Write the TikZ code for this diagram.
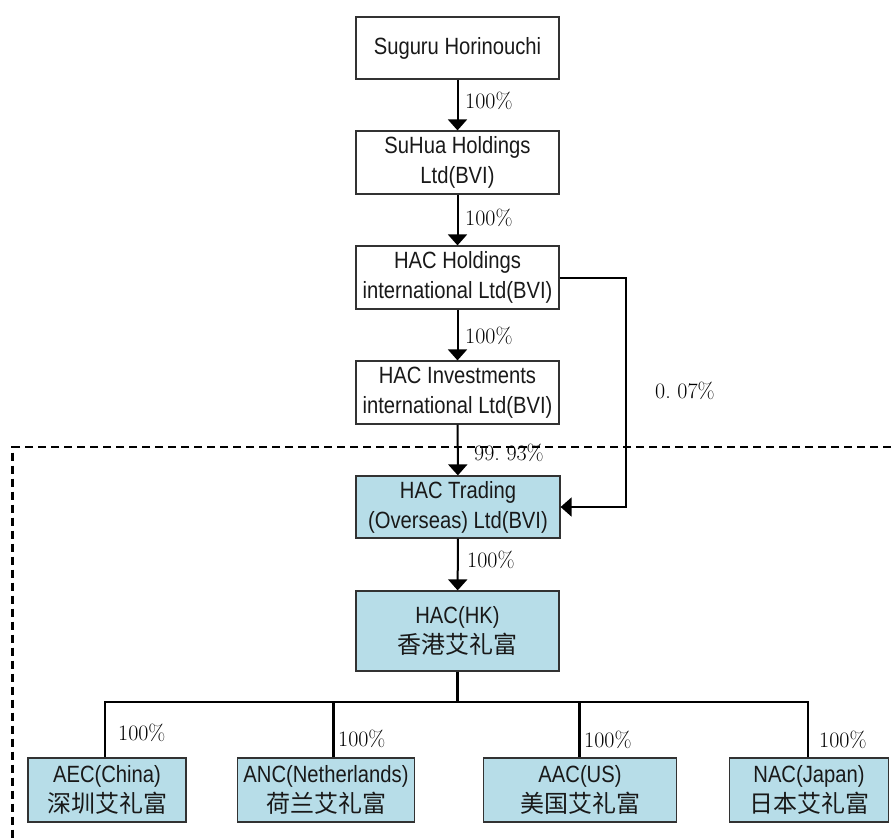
\documentclass[tikz,border=0pt]{standalone}
\usepackage{fontspec}
\newfontfamily\boxfont{Liberation Sans}[FakeStretch=0.86]
\newfontfamily\cjk{Noto Sans CJK SC}
\usetikzlibrary{arrows.meta}
\definecolor{boxblue}{RGB}{183,221,232}
\definecolor{edge}{RGB}{50,50,50}
\tikzset{
  entity/.style={draw=edge, line width=1.2pt, inner sep=0pt, minimum width=203pt, minimum height=63pt,
    align=center, font=\boxfont\fontsize{23.5}{30}\selectfont, text=black!90},
  blue/.style={entity, fill=boxblue},
  owns/.style={line width=2pt, -{Triangle[width=19pt,length=11pt]}},
  link/.style={line width=2.2pt},
  buslink/.style={line width=2.6pt},
  pct/.style={font=\fontsize{22}{26}\selectfont, inner sep=0pt, anchor=west, text=black},
  zone/.style={line width=2.2pt, dash pattern=on 8.5pt off 4.5pt}
}
\begin{document}
\begin{tikzpicture}[x=1pt,y=-1pt]
\useasboundingbox (0,0) rectangle (891,839);
% dashed zone
\draw[zone] (891,447) -- (12.5,447) -- (12.5,839);
% boxes
\node[entity, minimum height=62pt] (su) at (457.5,48) {Suguru Horinouchi};
\node[entity] (suhua) at (457.5,162.5) {SuHua Holdings\\Ltd(BVI)};
\node[entity] (hold) at (457.5,277.5) {HAC Holdings\\international Ltd(BVI)};
\node[entity] (inv) at (457.5,392.5) {HAC Investments\\international Ltd(BVI)};
\node[blue, minimum height=62pt, minimum width=204pt] (trade) at (458,507) {HAC Trading\\(Overseas) Ltd(BVI)};
\node[blue, minimum height=80pt] (hk) at (457.5,631) {HAC(HK)\\{\cjk\fontsize{24}{30}\selectfont 香港艾礼富}};
\node[blue, minimum width=158pt, minimum height=64pt] (aec) at (107,790) {AEC(China)\\{\cjk\fontsize{24}{30}\selectfont 深圳艾礼富}};
\node[blue, minimum width=177pt, minimum height=64pt] (anc) at (326,790) {ANC(Netherlands)\\{\cjk\fontsize{24}{30}\selectfont 荷兰艾礼富}};
\node[blue, minimum width=193pt, minimum height=64pt] (aac) at (580,790) {AAC(US)\\{\cjk\fontsize{24}{30}\selectfont 美国艾礼富}};
\node[blue, minimum width=159pt, minimum height=64pt] (nac) at (809,790) {NAC(Japan)\\{\cjk\fontsize{24}{30}\selectfont 日本艾礼富}};
% vertical ownership arrows
\draw[owns] (su) -- (suhua);
\draw[owns] (suhua) -- (hold);
\draw[owns] (hold) -- (inv);
\draw[owns] (inv) -- (trade);
\draw[owns] (trade) -- (hk);
% side link
\coordinate (c1) at (626,278);
\coordinate (c2) at (626,507);
\draw[owns] (hold.east |- c1) -- (c1) -- (c2) -- (trade.east);
% bus
\coordinate (bus) at (457.5,702);
\coordinate (b1) at (105,702);
\coordinate (b2) at (333.5,702);
\coordinate (b3) at (579.5,702);
\coordinate (b4) at (808,702);
\draw[link] (hk) -- (bus);
\draw[buslink, line cap=rect] (b1) -- (b4);
\draw[link] (b1) -- (aec.north -| b1);
\draw[link] (b2) -- (anc.north -| b2);
\draw[link] (b3) -- (aac.north -| b3);
\draw[link] (b4) -- (nac.north -| b4);
% percentage labels
\node[pct] (p1) at (465,101) {100\%};
\node[pct] (p2) at (465,218) {100\%};
\node[pct] (p3) at (465,336) {100\%};
\node[pct] (p4) at (474,453) {99.\ 93\%};
\node[pct] (p5) at (467,560) {100\%};
\node[pct] (p6) at (655,391) {0.\ 07\%};
\node[pct] (p7) at (118,733) {100\%};
\node[pct] (p8) at (338,739) {100\%};
\node[pct] (p9) at (584,740) {100\%};
\node[pct] (p10) at (819,740) {100\%};
\end{tikzpicture}
\end{document}
